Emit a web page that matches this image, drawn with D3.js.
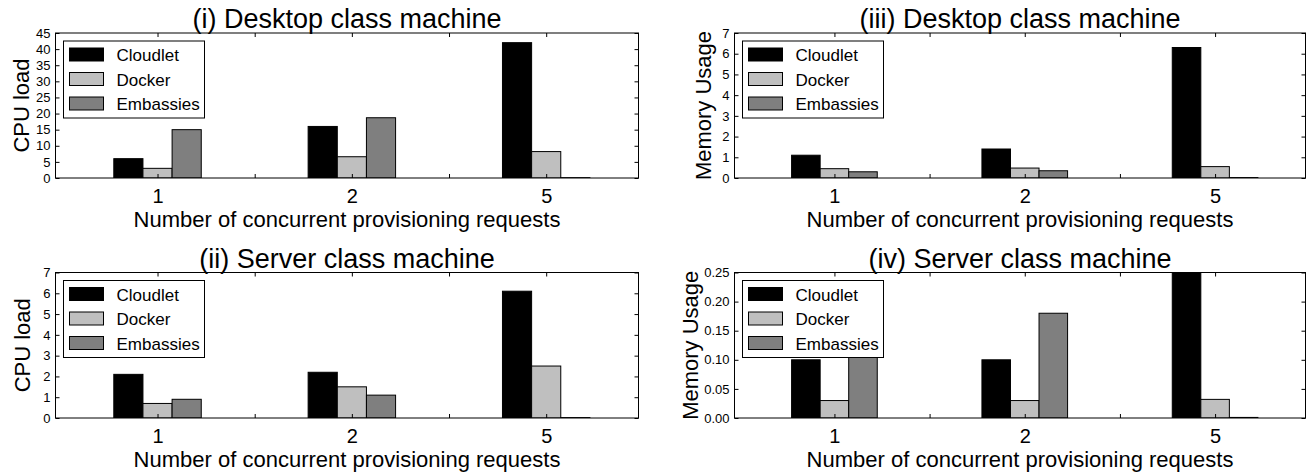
<!DOCTYPE html>
<html>
<head>
<meta charset="utf-8">
<script src="https://cdn.jsdelivr.net/npm/d3@7"></script>
<style>
  body { margin: 0; background: #fff; }
  svg { display: block; font-family: "Liberation Sans", Arial, sans-serif; }
</style>
</head>
<body>
<svg id="chart" width="1310" height="472"></svg>
<script>
const groups = ['1', '2', '5']
const series = ['Cloudlet', 'Docker', 'Embassies']
const seriesColors = ['#000000', '#bfbfbf', '#7f7f7f']

// (i) CPU load, desktop
const cpuDesktopCloudlet = [6, 16, 42]
const cpuDesktopDocker = [3, 6.6, 8.2]
const cpuDesktopEmbassies = [15, 18.7, 0.1]

// (ii) CPU load, server
const cpuServerCloudlet = [2.1, 2.2, 6.1]
const cpuServerDocker = [0.7, 1.5, 2.5]
const cpuServerEmbassies = [0.9, 1.1, 0.02]

// (iii) memory, desktop
const memDesktopCloudlet = [1.1, 1.4, 6.3]
const memDesktopDocker = [0.45, 0.48, 0.55]
const memDesktopEmbassies = [0.3, 0.35, 0.02]

// (iv) memory, server
const memServerCloudlet = [0.1, 0.1, 0.25]
const memServerDocker = [0.03, 0.03, 0.032]
const memServerEmbassies = [0.12, 0.18, 0.001]

const cpuDesktopTicks = [0, 5, 10, 15, 20, 25, 30, 35, 40, 45]
const cpuServerTicks = [0, 1, 2, 3, 4, 5, 6, 7]
const memDesktopTicks = [0, 1, 2, 3, 4, 5, 6, 7]
const memServerTicks = [0, 0.05, 0.10, 0.15, 0.20, 0.25]

const panels = [
  { title: '(i) Desktop class machine', ylabel: 'CPU load', values: [cpuDesktopCloudlet, cpuDesktopDocker, cpuDesktopEmbassies],
    ticks: cpuDesktopTicks, fmt: d3.format('d'), left: 55.5, right: 638.5, top: 33, bottom: 178, yoff: 27 },
  { title: '(ii) Server class machine', ylabel: 'CPU load', values: [cpuServerCloudlet, cpuServerDocker, cpuServerEmbassies],
    ticks: cpuServerTicks, fmt: d3.format('d'), left: 55.5, right: 638.5, top: 272.5, bottom: 418, yoff: 26 },
  { title: '(iii) Desktop class machine', ylabel: 'Memory Usage', values: [memDesktopCloudlet, memDesktopDocker, memDesktopEmbassies],
    ticks: memDesktopTicks, fmt: d3.format('d'), left: 734.5, right: 1305.5, top: 33, bottom: 178, yoff: 24 },
  { title: '(iv) Server class machine', ylabel: 'Memory Usage', values: [memServerCloudlet, memServerDocker, memServerEmbassies],
    ticks: memServerTicks, fmt: d3.format('.2f'), left: 734.5, right: 1305.5, top: 272.5, bottom: 418, yoff: 37 },
]

const svg = d3.select('#chart')
const barW = 0.15

panels.forEach(p => {
  const g = svg.append('g')
  const x = d3.scaleLinear().domain([0, 3]).range([p.left, p.right])
  const y = d3.scaleLinear().domain([0, d3.max(p.ticks)]).range([p.bottom, p.top])

  const clipId = 'clip' + Math.round(p.left) + '_' + Math.round(p.top)
  svg.append('clipPath').attr('id', clipId)
    .append('rect')
    .attr('x', p.left).attr('y', p.top)
    .attr('width', p.right - p.left).attr('height', p.bottom - p.top)

  // bars
  const bars = g.append('g').attr('clip-path', `url(#${clipId})`)
  series.forEach((s, k) => {
    bars.selectAll('rect.s' + k)
      .data(p.values[k])
      .enter()
      .append('rect')
      .attr('x', (d, i) => x(i + 0.3 + k * barW))
      .attr('width', x(barW) - x(0))
      .attr('y', d => y(d))
      .attr('height', d => y(0) - y(d))
      .attr('fill', seriesColors[k])
      .attr('stroke', '#000')
      .attr('stroke-width', 1)
  })

  // ticks (inward, both sides)
  const xTickVals = [0.525, 1.025, 1.525, 2.025, 2.525]
  const labelOf = v => {
    const i = Math.round(v - 0.525)
    return Math.abs(v - 0.525 - i) < 1e-6 ? groups[i] : ''
  }
  g.append('g').attr('transform', `translate(0,${p.bottom})`)
    .call(d3.axisBottom(x).tickValues(xTickVals).tickFormat(labelOf).tickSizeInner(-4).tickSizeOuter(0).tickPadding(11))
    .call(a => a.select('.domain').remove())
    .call(a => a.selectAll('text').attr('font-size', 20).attr('fill', '#000').attr('font-family', '"Liberation Sans", Arial, sans-serif'))
  g.append('g').attr('transform', `translate(0,${p.top})`)
    .call(d3.axisTop(x).tickValues(xTickVals).tickFormat('').tickSizeInner(-4).tickSizeOuter(0))
    .call(a => a.select('.domain').remove())
  g.append('g').attr('transform', `translate(${p.left},0)`)
    .call(d3.axisLeft(y).tickValues(p.ticks).tickFormat(p.fmt).tickSizeInner(-4).tickSizeOuter(0).tickPadding(5))
    .call(a => a.select('.domain').remove())
    .call(a => a.selectAll('text').attr('font-size', 13).attr('fill', '#000').attr('font-family', '"Liberation Sans", Arial, sans-serif'))
  g.append('g').attr('transform', `translate(${p.right},0)`)
    .call(d3.axisRight(y).tickValues(p.ticks).tickFormat('').tickSizeInner(-4).tickSizeOuter(0))
    .call(a => a.select('.domain').remove())

  // frame
  g.append('rect')
    .attr('x', p.left).attr('y', p.top)
    .attr('width', p.right - p.left).attr('height', p.bottom - p.top)
    .attr('fill', 'none').attr('stroke', '#000').attr('stroke-width', 1)

  // title and labels
  const cx = (p.left + p.right) / 2
  g.append('text').attr('x', cx).attr('y', p.top - 5)
    .attr('text-anchor', 'middle').attr('font-size', 27).text(p.title)
  g.append('text').attr('x', cx).attr('y', p.bottom + 49)
    .attr('text-anchor', 'middle').attr('font-size', 22).text('Number of concurrent provisioning requests')
  g.append('text')
    .attr('transform', `translate(${p.left - p.yoff},${(p.top + p.bottom) / 2}) rotate(-90)`)
    .attr('text-anchor', 'middle').attr('font-size', 22).text(p.ylabel)

  // legend
  const lg = g.append('g').attr('transform', `translate(${p.left + 8},${p.top + 8})`)
  lg.append('rect').attr('width', 141).attr('height', 77)
    .attr('fill', '#fff').attr('stroke', '#000').attr('stroke-width', 1)
  series.forEach((s, k) => {
    lg.append('rect')
      .attr('x', 6).attr('y', 7 + k * 24.5)
      .attr('width', 34).attr('height', 13)
      .attr('fill', seriesColors[k]).attr('stroke', '#000').attr('stroke-width', 1)
    lg.append('text')
      .attr('x', 53).attr('y', 20 + k * 24.5)
      .attr('font-size', 17).text(s)
  })
})
</script>
</body>
</html>
